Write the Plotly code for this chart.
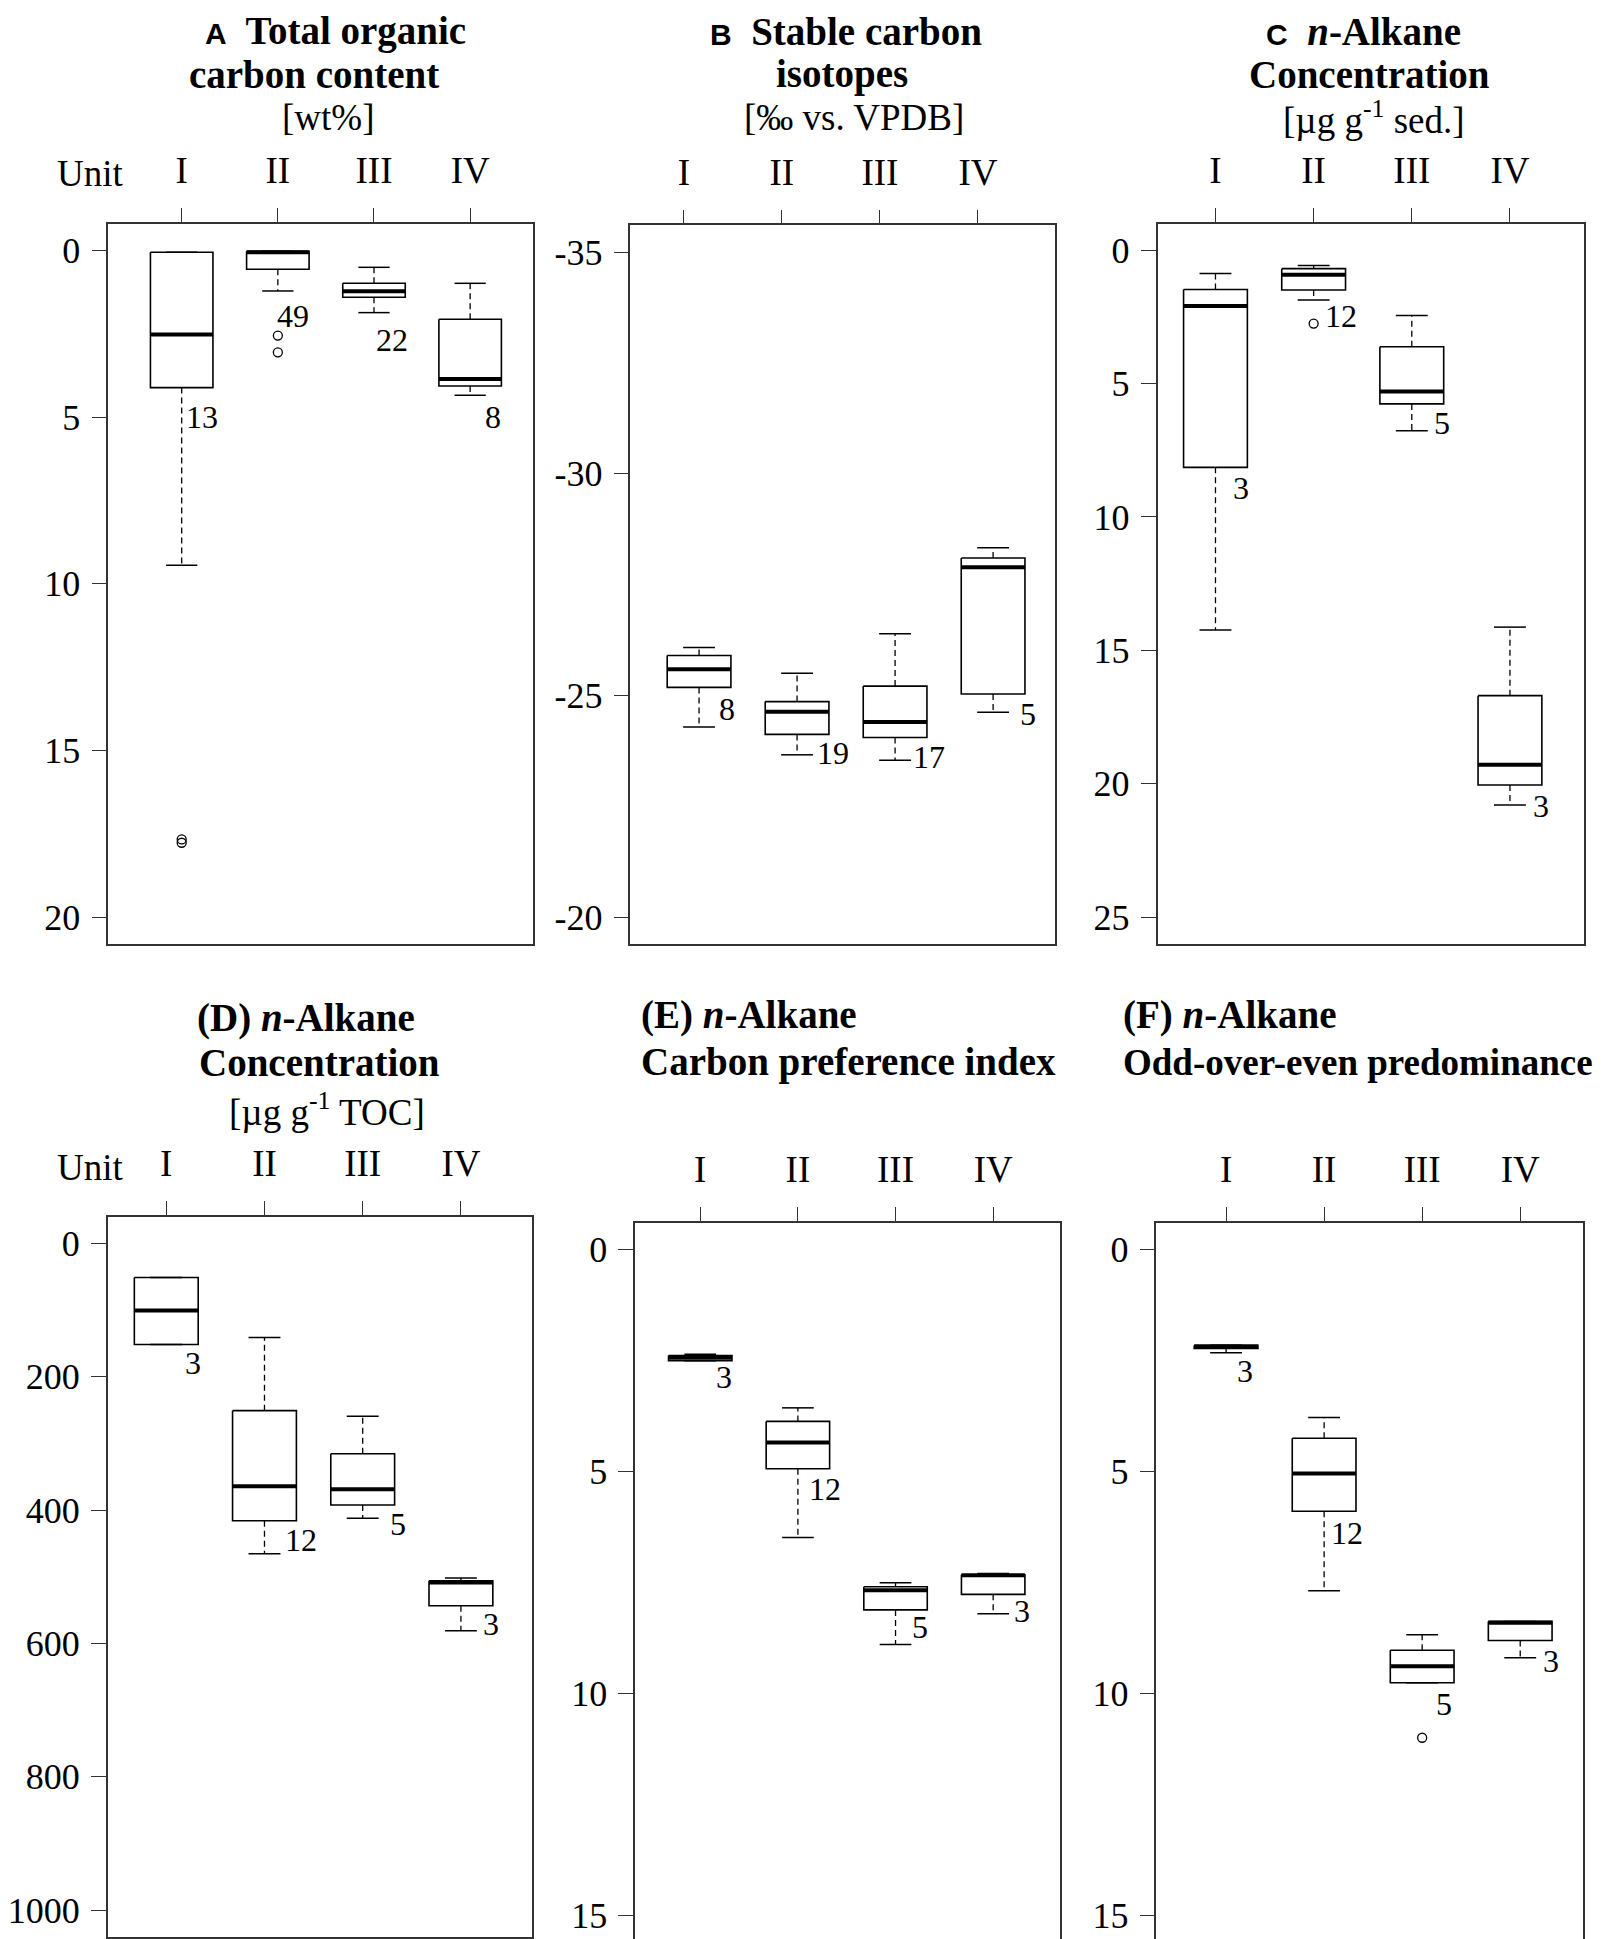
import plotly.graph_objects as go

W, H = 1611, 1939
SERIF = "Liberation Serif"

units = ["I", "II", "III", "IV"]

# (A) total organic carbon [wt%]
toc_lo = [0.05, 0.02, 0.50, 0.98]
toc_q1 = [0.05, 0.02, 0.98, 2.06]
toc_med = [2.52, 0.05, 1.22, 3.85]
toc_q3 = [4.11, 0.56, 1.40, 4.06]
toc_hi = [9.44, 1.21, 1.86, 4.34]
toc_out = [[17.67, 17.77], [2.55, 3.05], [], []]
toc_n = [13, 49, 22, 8]

# (B) stable carbon isotopes [permil vs. VPDB]
d13c_lo = [-26.08, -25.50, -26.39, -28.33]
d13c_q1 = [-25.90, -24.86, -25.21, -28.10]
d13c_med = [-25.59, -24.63, -24.40, -27.89]
d13c_q3 = [-25.18, -24.12, -24.05, -25.03]
d13c_hi = [-24.29, -23.66, -23.54, -24.62]
d13c_out = [[], [], [], []]
d13c_n = [8, 19, 17, 5]

# (C) n-alkane concentration [ug/g sed.]
sed_lo = [0.87, 0.57, 2.45, 14.13]
sed_q1 = [1.47, 0.69, 3.62, 16.70]
sed_med = [2.09, 0.92, 5.30, 19.29]
sed_q3 = [8.14, 1.49, 5.76, 20.05]
sed_hi = [14.24, 1.86, 6.77, 20.80]
sed_out = [[], [2.75], [], []]
sed_n = [3, 12, 5, 3]

# (D) n-alkane concentration [ug/g TOC]
toc_conc_lo = [51.5, 141.5, 259.6, 502.0]
toc_conc_q1 = [51.5, 251.0, 315.7, 505.9]
toc_conc_med = [101.0, 364.4, 369.0, 508.8]
toc_conc_q3 = [151.8, 416.0, 392.5, 543.4]
toc_conc_hi = [151.8, 465.6, 412.3, 580.8]
toc_conc_out = [[], [], [], []]
toc_conc_n = [3, 12, 5, 3]

# (E) carbon preference index
cpi_lo = [2.36, 3.57, 7.51, 7.30]
cpi_q1 = [2.39, 3.875, 7.60, 7.33]
cpi_med = [2.44, 4.35, 7.68, 7.34]
cpi_q3 = [2.51, 4.94, 8.12, 7.77]
cpi_hi = [2.51, 6.49, 8.90, 8.21]
cpi_out = [[], [], [], []]
cpi_n = [3, 12, 5, 3]

# (F) odd-over-even predominance
oep_lo = [2.16, 3.79, 8.68, 8.38]
oep_q1 = [2.16, 4.255, 9.03, 8.38]
oep_med = [2.19, 5.05, 9.39, 8.41]
oep_q3 = [2.23, 5.90, 9.76, 8.81]
oep_hi = [2.33, 7.69, 9.76, 9.20]
oep_out = [[], [], [11.0], []]
oep_n = [3, 12, 5, 3]


def px(x):
    return x / W


def py(y):
    return 1 - y / H


panels = [
    dict(stats=(toc_lo, toc_q1, toc_med, toc_q3, toc_hi, toc_out), n=toc_n,
         box=(97.5, 523.3, 216, 935.7), xr=[0.237, 4.657], yr=[20.8, -0.8],
         yt=[0, 5, 10, 15, 20], shift=0.0, unit_y=178,
         lab_dx=[0.02, -0.03, 0.0, 0.13], lab_y=[5.0, 1.96, 2.67, 5.0]),
    dict(stats=(d13c_lo, d13c_q1, d13c_med, d13c_q3, d13c_hi, d13c_out), n=d13c_n,
         box=(620.6, 1045.8, 217.4, 935.7), xr=[0.30, 4.63], yr=[-19.4, -35.6],
         yt=[-35, -30, -25, -20], shift=-0.155, unit_y=None,
         lab_dx=[0.185, 0.184, 0.16, 0.25], lab_y=[-24.70, -23.70, -23.60, -24.58]),
    dict(stats=(sed_lo, sed_q1, sed_med, sed_q3, sed_hi, sed_out), n=sed_n,
         box=(1148.7, 1575.5, 215.6, 935.7), xr=[0.41, 4.75], yr=[26, -1],
         yt=[0, 5, 10, 15, 20, 25], shift=0.0, unit_y=None,
         lab_dx=[0.16, 0.10, 0.21, 0.21], lab_y=[8.9, 2.47, 6.49, 20.82]),
    dict(stats=(toc_conc_lo, toc_conc_q1, toc_conc_med, toc_conc_q3, toc_conc_hi, toc_conc_out),
         n=toc_conc_n,
         box=(96.8, 522.4, 1208.5, 1929), xr=[0.403, 4.728], yr=[1040, -40],
         yt=[0, 200, 400, 600, 800, 1000], shift=0.0, unit_y=1172,
         lab_dx=[0.175, 0.19, 0.26, 0.20], lab_y=[180, 444.6, 421.6, 571.5]),
    dict(stats=(cpi_lo, cpi_q1, cpi_med, cpi_q3, cpi_hi, cpi_out), n=cpi_n,
         box=(625.4, 1051.4, 1214.7, 1934), xr=[0.334, 4.689], yr=[15.6, -0.6],
         yt=[0, 5, 10, 15], shift=0.0, unit_y=None,
         lab_dx=[0.14, 0.098, 0.15, 0.19], lab_y=[2.88, 5.40, 8.50, 8.14]),
    dict(stats=(oep_lo, oep_q1, oep_med, oep_q3, oep_hi, oep_out), n=oep_n,
         box=(1147.6, 1574.5, 1214.7, 1934), xr=[0.29, 4.636], yr=[15.6, -0.6],
         yt=[0, 5, 10, 15], shift=0.0, unit_y=None,
         lab_dx=[0.09, 0.05, 0.125, 0.21], lab_y=[2.74, 6.39, 10.25, 9.27]),
]

# title lines: text, x, y (mid), bold, font size
sans = "<span style=\"font-family:'Liberation Sans';font-size:30px\">%s</span>"
titles = [
    [(sans % "A" + "  Total organic", 325.6, 23, True, 39), ("carbon content", 304, 67, True, 39),
     ("[wt%]", 317.5, 110, False, 37)],
    [(sans % "B" + "  Stable carbon", 837, 23, True, 39), ("isotopes", 833, 66, True, 39),
     ("[‰ vs. VPDB]", 845, 109, False, 37)],
    [(sans % "C" + "  <i>n</i>-Alkane", 1355, 23, True, 39), ("Concentration", 1361.5, 67, True, 39),
     ("[µg g<sup>-1</sup> sed.]", 1366, 110, False, 37)],
    [("(D) <i>n</i>-Alkane", 296, 1010, True, 39), ("Concentration", 309, 1054, True, 39),
     ("[µg g<sup>-1</sup> TOC]", 317, 1101, False, 37)],
    [("(E) <i>n</i>-Alkane", 629, 1007, True, 39), ("Carbon preference index", 629, 1054, True, 39)],
    [("(F) <i>n</i>-Alkane", 1112, 1007, True, 39),
     ("Odd-over-even predominance", 1112, 1054, True, 37)],
]

fig = go.Figure()
annotations = []
bw = 0.65
h = bw / 2

for k, p in enumerate(panels):
    sfx = "" if k == 0 else str(k + 1)
    xa, ya = "x" + sfx, "y" + sfx
    lo, q1, med, q3, hi, out = p["stats"]
    bx, by, mx, my, wx, wy, cx, cy, ox, oy = [], [], [], [], [], [], [], [], [], []
    for i in range(4):
        c = i + 1
        bx += [c - h, c + h, c + h, c - h, c - h, None]
        by += [q1[i], q1[i], q3[i], q3[i], q1[i], None]
        mx += [c - h, c + h, None]
        my += [med[i], med[i], None]
        if hi[i] > q3[i]:
            wx += [c, c, None]
            wy += [q3[i], hi[i], None]
        if lo[i] < q1[i]:
            wx += [c, c, None]
            wy += [q1[i], lo[i], None]
        cx += [c - h / 2, c + h / 2, None, c - h / 2, c + h / 2, None]
        cy += [hi[i], hi[i], None, lo[i], lo[i], None]
        ox += [c] * len(out[i])
        oy += out[i]
        annotations.append(dict(
            text=str(p["n"][i]), x=c + p["lab_dx"][i], y=p["lab_y"][i],
            xref=xa, yref=ya, xanchor="left", yanchor="middle", showarrow=False,
            font=dict(family=SERIF, size=32, color="black")))

    fig.add_trace(go.Scatter(x=wx, y=wy, mode="lines", xaxis=xa, yaxis=ya,
                             line=dict(color="black", width=1.3, dash="6px,4px")))
    fig.add_trace(go.Scatter(x=cx, y=cy, mode="lines", xaxis=xa, yaxis=ya,
                             line=dict(color="black", width=1.5)))
    fig.add_trace(go.Scatter(x=bx, y=by, mode="lines", xaxis=xa, yaxis=ya,
                             line=dict(color="black", width=1.6)))
    fig.add_trace(go.Scatter(x=mx, y=my, mode="lines", xaxis=xa, yaxis=ya,
                             line=dict(color="black", width=4)))
    if oy:
        fig.add_trace(go.Scatter(x=ox, y=oy, mode="markers", xaxis=xa, yaxis=ya,
                                 marker=dict(symbol="circle-open", size=9, color="black",
                                             line=dict(width=1.3))))

    x0, x1, y0, y1 = p["box"]
    fig.update_layout(**{
        "xaxis" + sfx: dict(
            domain=[px(x0), px(x1)], range=p["xr"], anchor=ya, side="top",
            tickvals=[c + p["shift"] for c in range(1, 5)], ticktext=units,
            ticks="outside", ticklen=14, tickwidth=1.3, tickcolor="#333",
            showline=True, linecolor="#333", linewidth=1.5, mirror=True,
            showgrid=False, zeroline=False, ticklabelstandoff=10,
            tickfont=dict(family=SERIF, size=37, color="black")),
        "yaxis" + sfx: dict(
            domain=[py(y1), py(y0)], range=p["yr"], anchor=xa,
            tickvals=p["yt"], ticktext=[str(v) for v in p["yt"]],
            ticks="outside", ticklen=15, tickwidth=1.3, tickcolor="#333",
            showline=True, linecolor="#333", linewidth=1.5, mirror=True,
            showgrid=False, zeroline=False, ticklabelstandoff=4,
            tickfont=dict(family=SERIF, size=36, color="black")),
    })
    if p["unit_y"] is not None:
        annotations.append(dict(
            text="Unit", x=px(80), y=py(p["unit_y"] - 12.5), xref="paper", yref="paper",
            xanchor="center", yanchor="middle", showarrow=False,
            font=dict(family=SERIF, size=37, color="black")))

for k, lines in enumerate(titles):
    left = k >= 4
    for text, x, y, bold, size in lines:
        annotations.append(dict(
            text="<b>%s</b>" % text if bold else text,
            x=px(x), y=py(y), xref="paper", yref="paper",
            xanchor="left" if left else "center", yanchor="middle", showarrow=False,
            font=dict(family=SERIF, size=size, color="black")))

fig.update_layout(
    width=W, height=H, margin=dict(l=0, r=0, t=0, b=0),
    paper_bgcolor="white", plot_bgcolor="white",
    showlegend=False, annotations=annotations,
)

fig.write_html("out.html")
